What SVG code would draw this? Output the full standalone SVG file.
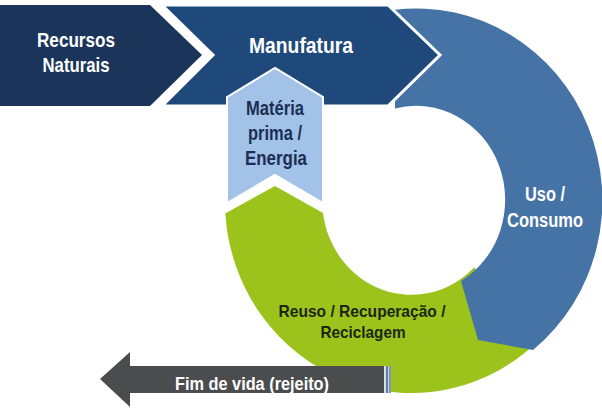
<svg xmlns="http://www.w3.org/2000/svg" width="602" height="416" viewBox="0 0 602 416">
<style>
text{font-family:"Liberation Sans",Arial,sans-serif;font-weight:bold;text-anchor:middle}
.w{fill:#ffffff}
.nv{fill:#1b2f55}
.dk{fill:#1c2612}
</style>
<rect width="602" height="416" fill="#ffffff"/>
<g id="reuso">
<path d="M226,213 L275,186 L323,213 A89 94 0 0 0 474,267.5 L542.5,336.8 A186 192 0 0 1 225.3,213 Z" fill="#9bc31b"/>
</g>
<g id="uso-consumo">
<path d="M395,9.7 A186 192 0 0 1 533,350 L478,340 L461,281 A89 94 0 0 0 395,108.5 Z" fill="#4673a5"/>
</g>
<g id="recursos">
<path d="M0,5 L150,5 L202,55 L150,106 L0,106 Z" fill="#1a3559"/>
</g>
<g id="manufatura">
<path d="M162,5 L388,5 L440,55 L388,106 L162,106 L213,55 Z" fill="#1f497b" stroke="#ffffff" stroke-width="3" stroke-linejoin="miter"/>
</g>
<g id="materia">
<path d="M227,97 L275,68 L323,97 L323,203 L275,175 L227,203 Z" fill="#a2c2e8" stroke="#ffffff" stroke-width="2"/>
</g>
<g id="fim-de-vida">
<path d="M100,379 L130,352 L130,366 L386,366 L386,393 L130,393 L130,407 Z" fill="#4b4c4e"/>
<rect x="384" y="366" width="2" height="27" fill="#d8dde3"/>
<rect x="386" y="366" width="2" height="27" fill="#5b7fa8"/>
<rect x="388" y="366" width="1" height="27" fill="#c9d3df"/>
<rect x="389" y="366" width="2" height="27" fill="#7a98b8"/>
</g>
<g id="connectors"/>
<g id="labels">
<text class="w" x="76" y="47" font-size="21" textLength="78" lengthAdjust="spacingAndGlyphs">Recursos</text>
<text class="w" x="76" y="72" font-size="21" textLength="67" lengthAdjust="spacingAndGlyphs">Naturais</text>
<text class="w" x="301" y="53" font-size="22" textLength="104" lengthAdjust="spacingAndGlyphs">Manufatura</text>
<text class="nv" x="275" y="115" font-size="20" textLength="58" lengthAdjust="spacingAndGlyphs">Matéria</text>
<text class="nv" x="275" y="140" font-size="20" textLength="54" lengthAdjust="spacingAndGlyphs">prima /</text>
<text class="nv" x="276" y="165" font-size="20" textLength="62" lengthAdjust="spacingAndGlyphs">Energia</text>
<text class="w" x="545" y="201" font-size="20" textLength="40" lengthAdjust="spacingAndGlyphs">Uso /</text>
<text class="w" x="545" y="227" font-size="20" textLength="76" lengthAdjust="spacingAndGlyphs">Consumo</text>
<text class="dk" x="362" y="317" font-size="17" textLength="167" lengthAdjust="spacingAndGlyphs">Reuso / Recuperação /</text>
<text class="dk" x="363" y="338" font-size="17" textLength="85" lengthAdjust="spacingAndGlyphs">Reciclagem</text>
<text class="w" x="252" y="390" font-size="18" textLength="154" lengthAdjust="spacingAndGlyphs">Fim de vida (rejeito)</text>
</g>
</svg>
